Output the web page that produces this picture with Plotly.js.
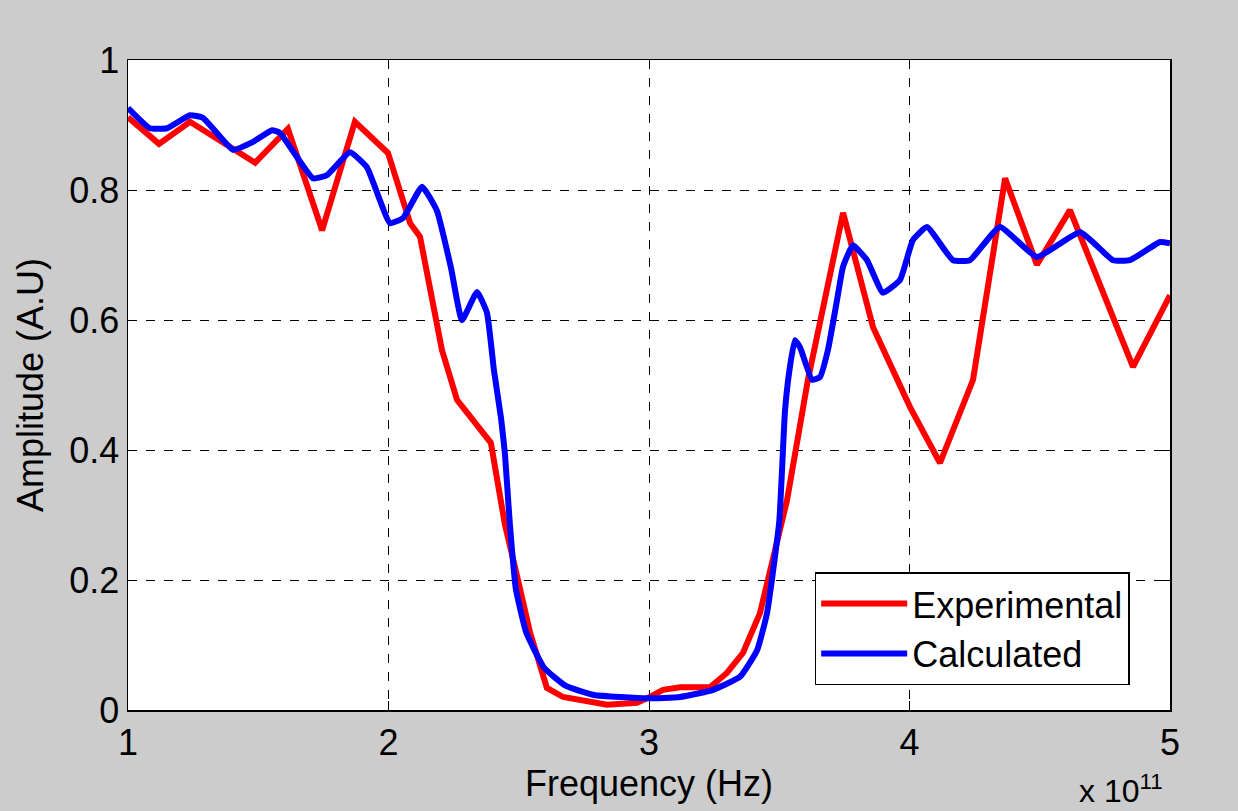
<!DOCTYPE html>
<html>
<head>
<meta charset="utf-8">
<script src="https://cdn.plot.ly/plotly-3.0.1.min.js"></script>
<style>html,body{margin:0;padding:0;background:#cccccc;}#chart{width:1238px;height:811px;}</style>
</head>
<body>
<div id="chart"></div>
<script>
// Frequency in units of 1e11 Hz
const expFreq = [1.000,1.119,1.238,1.353,1.488,1.614,1.745,1.871,1.998,2.083,2.121,2.205,2.263,2.393,2.447,2.489,2.543,2.608,2.670,2.839,2.954,2.992,3.054,3.119,3.234,3.299,3.361,3.426,3.530,3.610,3.745,3.860,4.002,4.117,4.244,4.367,4.489,4.616,4.858,5.000];
const expAmp  = [0.912,0.871,0.905,0.877,0.842,0.894,0.738,0.905,0.857,0.749,0.728,0.554,0.477,0.411,0.285,0.214,0.120,0.034,0.020,0.008,0.011,0.018,0.031,0.035,0.035,0.057,0.088,0.149,0.323,0.508,0.765,0.589,0.466,0.380,0.508,0.818,0.685,0.769,0.528,0.638];

const calcFreq = [1.000,1.084,1.150,1.238,1.288,1.403,1.480,1.553,1.583,1.710,1.764,1.852,1.917,2.006,2.056,2.129,2.186,2.240,2.282,2.340,2.378,2.405,2.432,2.447,2.466,2.489,2.528,2.597,2.681,2.789,2.992,3.119,3.246,3.349,3.415,3.453,3.500,3.522,3.541,3.560,3.580,3.626,3.656,3.687,3.722,3.745,3.783,3.837,3.898,3.964,4.013,4.067,4.167,4.232,4.347,4.489,4.655,4.781,4.846,4.962,5.000];
const calcAmp  = [0.926,0.895,0.895,0.915,0.911,0.862,0.874,0.892,0.888,0.818,0.823,0.858,0.835,0.749,0.757,0.805,0.768,0.680,0.600,0.643,0.611,0.522,0.449,0.394,0.285,0.186,0.120,0.065,0.037,0.023,0.018,0.020,0.031,0.051,0.092,0.149,0.290,0.460,0.528,0.569,0.558,0.508,0.512,0.554,0.631,0.682,0.715,0.692,0.642,0.662,0.723,0.743,0.692,0.692,0.743,0.697,0.735,0.692,0.692,0.720,0.718];

const xTicks = [1,2,3,4,5];
const yTicks = [0,0.2,0.4,0.6,0.8,1];
const seriesNames = ["Experimental","Calculated"];

const FONT = "Liberation Sans, Arial, sans-serif";
const FS = 36;

const traces = [
  {x: expFreq, y: expAmp, name: seriesNames[0], type: "scatter", mode: "lines",
   line: {color: "#ff0000", width: 6}},
  {x: calcFreq, y: calcAmp, name: seriesNames[1], type: "scatter", mode: "lines",
   line: {color: "#0000ff", width: 6, shape: "spline", smoothing: 0.4}}
];

const axisCommon = {
  showline: true, linecolor: "#000", linewidth: 1.5, mirror: "ticks",
  ticks: "inside", ticklen: 9, tickcolor: "#000", tickwidth: 1,
  showgrid: true, gridcolor: "#000", gridwidth: 1, griddash: "dash",
  zeroline: false, tickfont: {family: FONT, size: FS, color: "#000"}
};

const layout = {
  width: 1238, height: 811,
  paper_bgcolor: "#cccccc", plot_bgcolor: "#ffffff",
  margin: {l: 128, r: 68, t: 60, b: 101},
  showlegend: true,
  legend: {x: 0.659, y: 0.212, xanchor: "left", yanchor: "top",
    bgcolor: "#ffffff", bordercolor: "#000", borderwidth: 1.5,
    itemwidth: 86,
    font: {family: FONT, size: FS, color: "#000"}, tracegroupgap: 0},
  xaxis: Object.assign({}, axisCommon, {
    range: [1, 5], tickvals: xTicks, ticktext: xTicks.map(String),
    title: {text: "Frequency (Hz)", font: {family: FONT, size: FS, color: "#000"}, standoff: 0}
  }),
  yaxis: Object.assign({}, axisCommon, {
    range: [0, 1], tickvals: yTicks,
    title: {text: "Amplitude (A.U)", font: {family: FONT, size: FS, color: "#000"}, standoff: 14}
  }),
  annotations: [{
    xref: "paper", yref: "paper", x: 0.995, y: -0.156, xanchor: "right", yanchor: "bottom",
    text: "x 10<sup>11</sup>", showarrow: false,
    font: {family: FONT, size: 32, color: "#000"}
  }]
};

Plotly.newPlot("chart", traces, layout, {displayModeBar: false, staticPlot: true});
</script>
</body>
</html>
